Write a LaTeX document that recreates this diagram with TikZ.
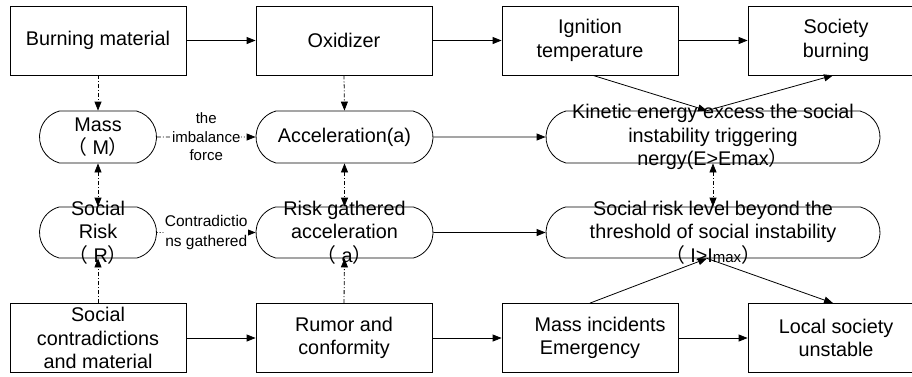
\documentclass[tikz,border=0pt]{standalone}
\usepackage{fontspec}
\setmainfont{Liberation Sans}
\newfontfamily\cjk{Noto Sans CJK SC}
\usetikzlibrary{arrows.meta,shapes.misc,calc}
\newcommand{\lp}{{\cjk （}}
\newcommand{\rp}{{\cjk ）}}
\begin{document}
\begin{tikzpicture}[x=1pt,y=-1pt,
 box/.style={draw,line width=0.8pt,minimum width=176pt,minimum height=69pt,inner sep=0pt},
 rbox/.style={draw,line width=0.8pt,rounded rectangle,rounded rectangle arc length=150,inner sep=0pt},
 txt/.style={align=center,inner sep=0pt,font=\fontsize{19.8}{23.5}\selectfont},
 lbl/.style={align=center,fill=white,inner sep=0.5pt},
 tip/.style={-{Triangle[length=9pt,width=7pt]}},
 dtip/.style={{Triangle[length=9pt,width=7pt]}-{Triangle[length=9pt,width=7pt]}},
 dd/.style={dash pattern=on 4pt off 2pt on 1pt off 2pt},
 con/.style={line width=0.8pt}
]
\useasboundingbox (0,0) rectangle (912,376);
% top row
\node[box] (bm) at (98,40.5) {};
\node[txt] (bmt) at (bm) {Burning material};
\node[box] (ox) at (344,40.5) {};
\node[txt] (oxt) at (ox) {Oxidizer};
\node[box] (ig) at (590,40.5) {};
\node[txt] (igt) at (ig) {Ignition\\temperature};
\node[box] (sb) at (836,40.5) {};
\node[txt] (sbt) at (sb) {Society\\burning};
% bottom row
\node[box] (sc) at (98,338) {};
\node[txt] (sct) at (sc) {Social\\contradictions\\and material};
\node[box] (ru) at (344,338) {};
\node[txt] (rut) at (ru) {Rumor and\\conformity};
\node[box] (mi) at (590,338) {};
\node[txt] (mit) at (mi) {\hspace*{20pt}Mass incidents\\Emergency};
\node[box] (ls) at (836,338) {};
\node[txt] (lst) at (ls) {Local society\\unstable};
% middle rounded
\node[rbox,minimum width=117pt,minimum height=52pt] (mass) at (98,137) {};
\node[txt] (masst) at (mass) {Mass\\\lp\ M\rp};
\node[rbox,minimum width=117pt,minimum height=51pt] (sr) at (98,232.5) {};
\node[txt] (srt) at (sr) {Social\\Risk\\\lp\ R\rp};
\node[rbox,minimum width=177pt,minimum height=52pt] (acc) at (344.5,137) {};
\node[txt] (acct) at (acc) {Acceleration(a)};
\node[rbox,minimum width=177pt,minimum height=51pt] (rg) at (344.5,232.5) {};
\node[txt] (rgt) at (rg) {Risk gathered\\acceleration\\\lp\ a\rp};
\node[rbox,minimum width=334pt,minimum height=52pt] (ke) at (713,137) {};
\node[txt] (ket) at (ke) {Kinetic energy excess the social\\instability triggering\\nergy(E>Emax\rp};
\node[rbox,minimum width=334pt,minimum height=51pt] (sl) at (713,232.5) {};
\node[txt] (slt) at (sl) {Social risk level beyond the\\threshold of social instability\\\lp\ I>I{\fontsize{15}{15}\selectfont max}\rp};
% connectors
\draw[con,tip] (bm) -- (ox);
\draw[con,tip] (ox) -- (ig);
\draw[con,tip] (ig) -- (sb);
\draw[con,tip] (sc) -- (ru);
\draw[con,tip] (ru) -- (mi);
\draw[con,tip] (mi) -- (ls);
\draw[con,tip] (acc) -- (ke);
\draw[con,tip] (rg) -- (sl);
\draw[con,dd,tip] (bm.south) -- (mass.north);
\draw[con,dd,tip] (ox.south) -- (acc.north);
\draw[con,dd,dtip] (mass.south) -- (sr.north);
\draw[con,dd,dtip] (acc.south) -- (rg.north);
\draw[con,dd,dtip] (ke.south) -- (sl.north);
\draw[con,dd,tip] (sc.north) -- (sr.south);
\draw[con,dd,tip] (ru.north) -- (rg.south);
\draw[con,dd,tip] (mass) -- node[lbl,font=\fontsize{15}{18.5}\selectfont] (lb1) {the\\imbalance\\force} (acc);
\draw[con,dotted,tip] (sr) -- node[lbl,font=\fontsize{15.5}{20}\selectfont] (lb2) {Contradictio\\ns gathered} (rg);
\coordinate (kn) at ($(ke.north)+(-6,0)$);
\coordinate (ks) at ($(sl.south)+(-6,0)$);
\draw[con,tip] ($(ig.south)+(3,0)$) -- (kn);
\draw[con,tip] (kn) -- ($(sb.south)+(-3,0)$);
\draw[con,tip] (mi.north) -- (ks);
\draw[con,tip] (ks) -- ($(ls.north)+(-3,0)$);
\end{tikzpicture}
\end{document}
